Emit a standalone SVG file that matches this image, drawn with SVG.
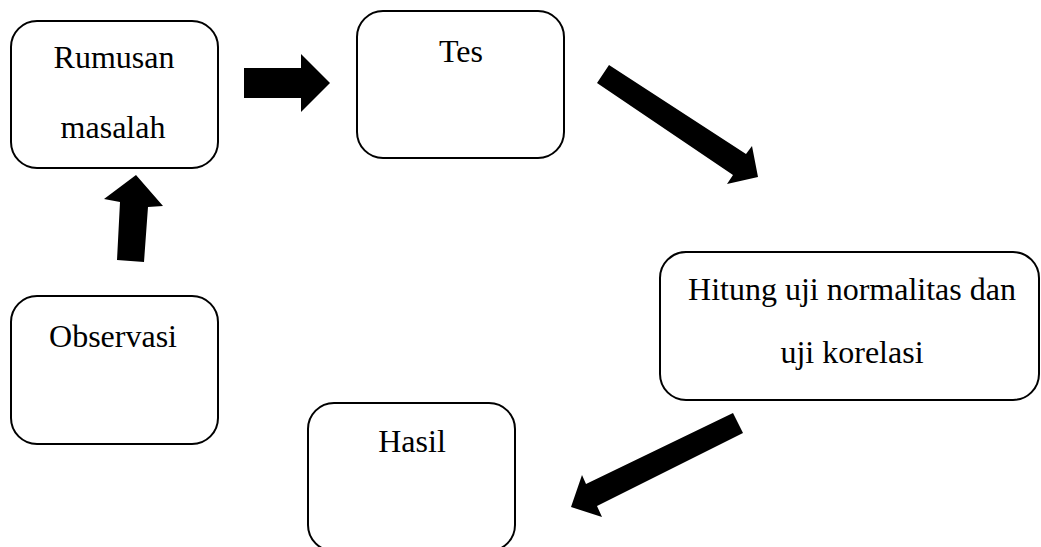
<svg xmlns="http://www.w3.org/2000/svg" width="1041" height="547" viewBox="0 0 1041 547">
<style>
.box{fill:#fff;stroke:#000;stroke-width:2}
.t{font-family:"Liberation Serif","Times New Roman",serif;font-size:32px;fill:#000;text-anchor:middle}
.arr{fill:#000;stroke:none}
</style>
<rect width="1041" height="547" fill="#fff"/>
<g id="node-rumusan">
<rect class="box" x="11" y="21" width="207" height="147" rx="26" ry="26"/>
<text class="t" x="114" y="68">Rumusan</text>
<text class="t" x="113" y="138">masalah</text>
</g>
<g id="node-tes">
<rect class="box" x="357" y="11" width="207" height="147" rx="26" ry="26"/>
<text class="t" x="461" y="62">Tes</text>
</g>
<g id="node-hitung">
<rect class="box" x="660" y="252" width="379" height="148" rx="26" ry="26"/>
<text class="t" x="852" y="300">Hitung uji normalitas dan</text>
<text class="t" x="852" y="363">uji korelasi</text>
</g>
<g id="node-observasi">
<rect class="box" x="11" y="296" width="207" height="148" rx="26" ry="26"/>
<text class="t" x="113" y="347">Observasi</text>
</g>
<g id="node-hasil">
<rect class="box" x="308" y="403" width="207" height="148" rx="26" ry="26"/>
<text class="t" x="412" y="452">Hasil</text>
</g>
<g id="connectors">
<polygon class="arr" points="244,68 301,68 301,54 330,83 301,112 301,98 244,98"/>
<polygon class="arr" points="597,83 609,65 746,154 752,146 758,177 727,184 733,175"/>
<polygon class="arr" points="733,413 743,433 597,506 602,517 571,507 582,475 586,484"/>
<polygon class="arr" points="117,260 144,262 148,207 163,206 136,175 104,199 120,202"/>
</g>
</svg>
